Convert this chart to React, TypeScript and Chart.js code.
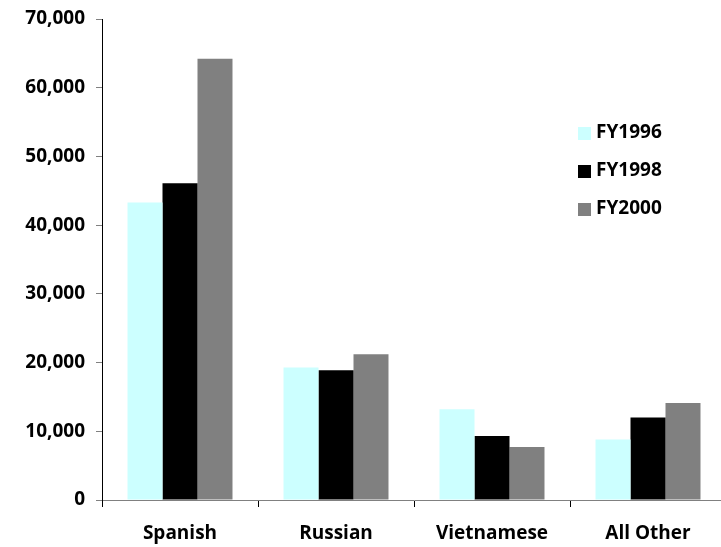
import React, { useEffect, useRef } from "react";
import { Chart, registerables } from "chart.js";

Chart.register(...registerables);

const categories = ["Spanish", "Russian", "Vietnamese", "All Other"];
const seriesLabels = ["FY1996", "FY1998", "FY2000"];
const fy1996 = [43300, 19300, 13200, 8800];
const fy1998 = [46100, 18900, 9300, 12000];
const fy2000 = [64200, 21200, 7700, 14100];
const seriesColors = ["#CCFFFF", "#000000", "#808080"];
const yMin = 0;
const yMax = 70000;
const yStep = 10000;

const FONT = "'Open Sans', sans-serif";

const legendPlugin = {
  id: "insideLegend",
  afterDraw(chart: any) {
    const ctx = chart.ctx;
    ctx.save();
    ctx.font = `bold 19px ${FONT}`;
    ctx.textBaseline = "middle";
    ctx.textAlign = "left";
    chart.data.datasets.forEach((ds: any, i: number) => {
      const y = 133 + i * 38;
      ctx.fillStyle = ds.backgroundColor;
      ctx.fillRect(578, y - 6, 13, 13);
      ctx.fillStyle = "#000";
      ctx.fillText(ds.label, 596, y);
    });
    ctx.restore();
  },
};

export default function App() {
  const ref = useRef<HTMLCanvasElement>(null);
  useEffect(() => {
    if (!ref.current) return;
    const data = [fy1996, fy1998, fy2000];
    const chart = new Chart(ref.current, {
      type: "bar",
      data: {
        labels: categories,
        datasets: seriesLabels.map((l, i) => ({
          label: l,
          data: data[i],
          backgroundColor: seriesColors[i],
          borderWidth: 0,
          categoryPercentage: 0.673,
          barPercentage: 1,
        })),
      },
      options: {
        animation: false,
        responsive: false,
        layout: { padding: { top: 19, left: 0, right: 0, bottom: 0 } },
        plugins: { legend: { display: false }, tooltip: { enabled: false } },
        scales: {
          x: {
            grid: {
              offset: true,
              drawOnChartArea: false,
              drawTicks: true,
              tickLength: 7,
              color: "#000",
            },
            border: { color: "#808080", width: 1 },
            ticks: {
              color: "#000",
              font: { family: FONT, size: 19, weight: "bold" },
              padding: 15,
              maxRotation: 0,
            },
            afterFit(scale: any) {
              scale.height = 47;
              scale.paddingLeft = 0;
              scale.paddingRight = 0;
            },
          },
          y: {
            min: yMin,
            max: yMax,
            grid: {
              drawOnChartArea: false,
              drawTicks: true,
              tickLength: 6,
              color: "#808080",
            },
            border: { color: "#000", width: 1 },
            ticks: {
              stepSize: yStep,
              color: "#000",
              font: { family: FONT, size: 19, weight: "bold" },
              padding: 11,
              callback: (v: any) => Number(v).toLocaleString("en-US"),
            },
            afterFit(scale: any) {
              scale.width = 102;
              scale.paddingTop = 0;
              scale.paddingBottom = 0;
            },
          },
        },
      },
      plugins: [legendPlugin],
    });
    return () => chart.destroy();
  }, []);
  return (
    <div
      style={{
        position: "fixed",
        left: 0,
        top: 0,
        width: 721,
        height: 547,
        overflow: "hidden",
        background: "#fff",
      }}
    >
      <canvas ref={ref} width={726} height={547} style={{ display: "block" }} />
    </div>
  );
}
